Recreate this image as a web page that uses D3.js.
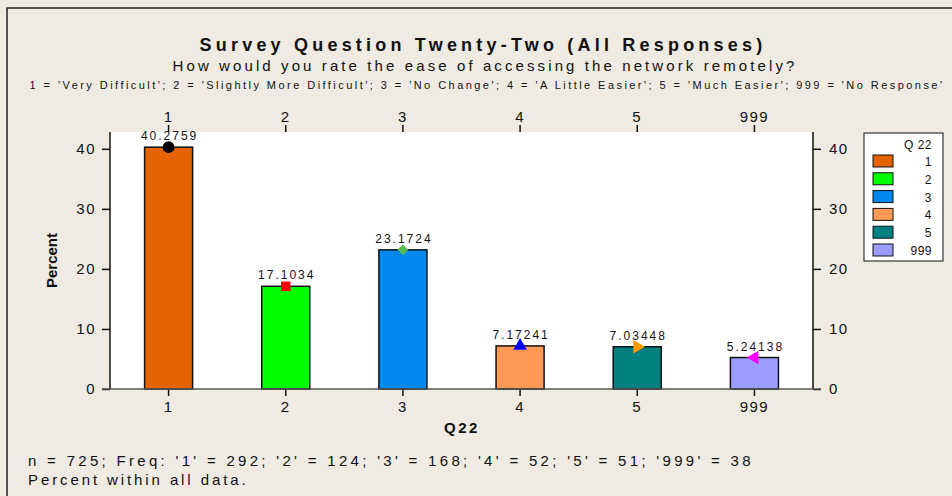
<!DOCTYPE html>
<html>
<head>
<meta charset="utf-8">
<script src="https://cdn.jsdelivr.net/npm/d3@7"></script>
<style>
  body { margin: 0; background: #efebe2; }
  svg { display: block; font-family: "Liberation Sans", Arial, sans-serif; }
</style>
</head>
<body>
<svg id="chart" width="952" height="496"></svg>
<script>
const categories = ["1", "2", "3", "4", "5", "999"];
const percents = [40.2759, 17.1034, 23.1724, 7.17241, 7.03448, 5.24138];
const valueLabels = ["40.2759", "17.1034", "23.1724", "7.17241", "7.03448", "5.24138"];
const barColors = ["#e46200", "#00ff00", "#0088ee", "#ff9955", "#008080", "#9d9dff"];
const markerColors = ["#000000", "#ff0000", "#55bb55", "#0000ff", "#ff9900", "#ff00ff"];
const yTicks = [0, 10, 20, 30, 40];

const svg = d3.select("#chart");
const plotLeft = 110, plotRight = 813, plotTop = 132, plotBottom = 389;

svg.append("rect")
  .attr("x", 7).attr("y", 8).attr("width", 960).attr("height", 500)
  .attr("fill", "#efebe2").attr("stroke", "#222").attr("stroke-width", 1.5);

// titles
svg.append("text").attr("x", 483).attr("y", 51)
  .attr("text-anchor", "middle").attr("font-size", 18).attr("font-weight", "bold")
  .attr("letter-spacing", "4.2px").attr("fill", "#111")
  .text("Survey Question Twenty-Two (All Responses)");
svg.append("text").attr("x", 485).attr("y", 71)
  .attr("text-anchor", "middle").attr("font-size", 15)
  .attr("letter-spacing", "3.1px").attr("fill", "#111")
  .text("How would you rate the ease of accessing the network remotely?");
svg.append("text").attr("x", 487).attr("y", 89)
  .attr("text-anchor", "middle").attr("font-size", 11)
  .attr("letter-spacing", "2.45px").attr("fill", "#111")
  .text("1 = 'Very Difficult'; 2 = 'Slightly More Difficult'; 3 = 'No Change'; 4 = 'A Little Easier'; 5 = 'Much Easier'; 999 = 'No Response'");

const x = d3.scaleBand().domain(categories).range([plotLeft, plotRight]).paddingInner(0.59).paddingOuter(0.295);
const y = d3.scaleLinear().domain([0, 42.8]).range([plotBottom, plotTop]);

svg.append("rect")
  .attr("x", plotLeft).attr("y", plotTop).attr("width", plotRight - plotLeft).attr("height", plotBottom - plotTop)
  .attr("fill", "#ffffff");

svg.selectAll("rect.bar")
  .data(percents)
  .join("rect")
  .attr("class", "bar")
  .attr("x", (d, i) => x(categories[i]))
  .attr("y", d => y(d))
  .attr("width", x.bandwidth())
  .attr("height", d => y(0) - y(d))
  .attr("fill", (d, i) => barColors[i])
  .attr("stroke", "#111").attr("stroke-width", 1.5);

// axes
function styleAxis(g) {
  g.selectAll("text").attr("font-size", 15).attr("fill", "#111")
    .attr("font-family", "Liberation Sans, Arial, sans-serif").attr("letter-spacing", "1.5px");
  g.selectAll("line").attr("stroke", "#111").attr("stroke-width", 1.5);
  g.select(".domain").remove();
}
svg.append("g").attr("transform", `translate(${plotLeft},0)`)
  .call(d3.axisLeft(y).tickValues(yTicks).tickSize(8).tickPadding(6)).call(styleAxis);
svg.append("g").attr("transform", `translate(${plotRight},0)`)
  .call(d3.axisRight(y).tickValues(yTicks).tickSize(8).tickPadding(8)).call(styleAxis);
svg.append("g").attr("transform", `translate(0,${plotBottom})`)
  .call(d3.axisBottom(x).tickSize(7).tickPadding(5)).call(styleAxis);
svg.append("g").attr("transform", `translate(0,${plotTop})`)
  .call(d3.axisTop(x).tickSize(7).tickPadding(3)).call(styleAxis);

svg.append("line").attr("x1", plotLeft).attr("x2", plotLeft).attr("y1", plotTop).attr("y2", plotBottom)
  .attr("stroke", "#111").attr("stroke-width", 1.5);
svg.append("line").attr("x1", plotRight).attr("x2", plotRight).attr("y1", plotTop).attr("y2", plotBottom)
  .attr("stroke", "#111").attr("stroke-width", 1.5);
svg.append("line").attr("x1", plotLeft - 8).attr("x2", plotRight + 8).attr("y1", plotBottom).attr("y2", plotBottom)
  .attr("stroke", "#555").attr("stroke-width", 1.5);

// axis titles
svg.append("text").attr("transform", `translate(57,${(plotTop + plotBottom) / 2}) rotate(-90)`)
  .attr("text-anchor", "middle").attr("font-size", 15).attr("font-weight", "bold")
  .attr("fill", "#111").text("Percent");
svg.append("text").attr("x", 462).attr("y", 433)
  .attr("text-anchor", "middle").attr("font-size", 15).attr("font-weight", "bold")
  .attr("letter-spacing", "2.5px").attr("fill", "#111").text("Q22");

// markers and value labels
const symbols = [d3.symbolCircle, d3.symbolSquare, d3.symbolSquare, d3.symbolTriangle, d3.symbolTriangle, d3.symbolTriangle];
const rotations = [0, 0, 45, 0, 90, -90];
const sizes = [110, 90, 60, 80, 80, 80];
svg.selectAll("path.marker")
  .data(percents)
  .join("path")
  .attr("class", "marker")
  .attr("transform", (d, i) => `translate(${x(categories[i]) + x.bandwidth() / 2},${y(d)}) rotate(${rotations[i]})`)
  .attr("d", (d, i) => d3.symbol(symbols[i], sizes[i])())
  .attr("fill", (d, i) => markerColors[i]);

svg.selectAll("text.vlabel")
  .data(percents)
  .join("text")
  .attr("class", "vlabel")
  .attr("x", (d, i) => x(categories[i]) + x.bandwidth() / 2 + 1)
  .attr("y", d => y(d) - 7)
  .attr("text-anchor", "middle").attr("font-size", 12)
  .attr("letter-spacing", "2px").attr("fill", "#111")
  .text((d, i) => valueLabels[i]);

// legend
const legend = svg.append("g");
legend.append("rect").attr("x", 864).attr("y", 133).attr("width", 79).attr("height", 128)
  .attr("fill", "#ffffff").attr("stroke", "#111").attr("stroke-width", 1);
legend.append("text").attr("x", 932).attr("y", 149).attr("text-anchor", "end")
  .attr("font-size", 12).attr("letter-spacing", "0.5px").attr("fill", "#111").text("Q 22");
categories.forEach((c, i) => {
  legend.append("rect").attr("x", 873).attr("y", 155 + i * 17.8).attr("width", 20).attr("height", 12)
    .attr("fill", barColors[i]).attr("stroke", "#111").attr("stroke-width", 1);
  legend.append("text").attr("x", 932).attr("y", 166 + i * 17.8).attr("text-anchor", "end")
    .attr("font-size", 12).attr("letter-spacing", "0.5px").attr("fill", "#111").text(c);
});

// footer
svg.append("text").attr("x", 28).attr("y", 466).attr("font-size", 15)
  .attr("letter-spacing", "3.3px").attr("fill", "#111")
  .text("n = 725; Freq: '1' = 292; '2' = 124; '3' = 168; '4' = 52; '5' = 51; '999' = 38");
svg.append("text").attr("x", 28).attr("y", 485).attr("font-size", 15)
  .attr("letter-spacing", "2.9px").attr("fill", "#111")
  .text("Percent within all data.");
</script>
</body>
</html>
